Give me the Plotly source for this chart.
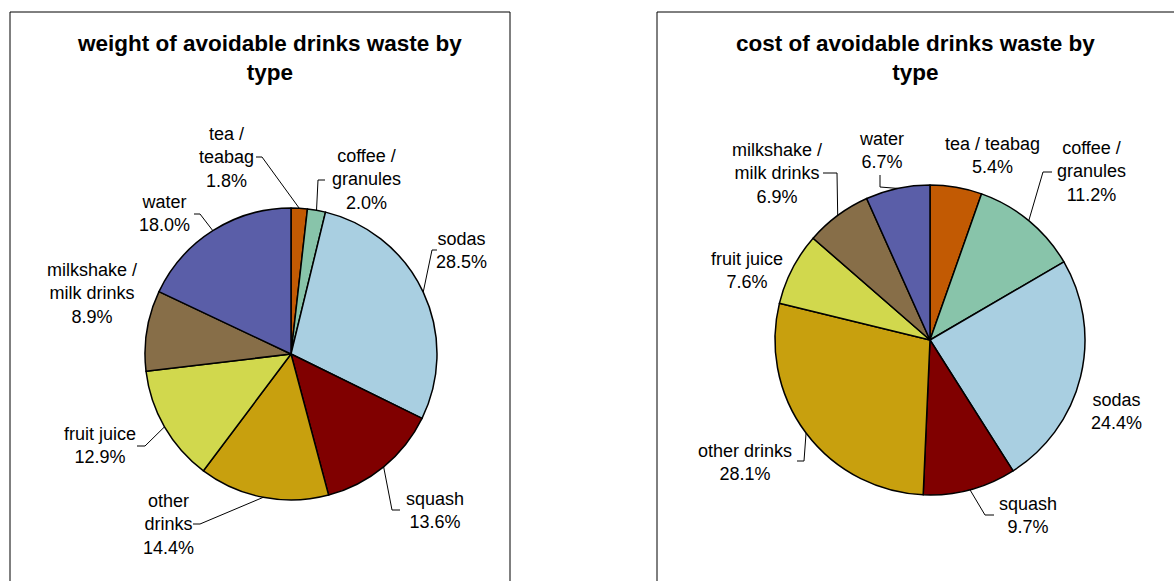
import math
import plotly.graph_objects as go

# ---------------- data ----------------
categories = ["tea / teabag", "coffee / granules", "sodas", "squash",
              "other drinks", "fruit juice", "milkshake / milk drinks", "water"]
weight_pct = [1.8, 2.0, 28.5, 13.6, 14.4, 12.9, 8.9, 18.0]
cost_pct = [5.4, 11.2, 24.4, 9.7, 28.1, 7.6, 6.9, 6.7]

weight_title = "weight of avoidable drinks waste by<br>type"
cost_title = "cost of avoidable drinks waste by<br>type"

weight_labels = ["tea /<br>teabag", "coffee /<br>granules", "sodas", "squash",
                 "other<br>drinks", "fruit juice", "milkshake /<br>milk drinks", "water"]
cost_labels = ["tea / teabag", "coffee /<br>granules", "sodas", "squash",
               "other drinks", "fruit juice", "milkshake /<br>milk drinks", "water"]

# ---------------- style / layout ----------------
W, H = 1174, 581
colors = ["#C25A03", "#88C4AA", "#A9CFE1", "#800000",
          "#C8A00E", "#D1D84D", "#876E48", "#5A5EA8"]
FONT = "Liberation Sans, Arial, sans-serif"

# pie geometry in pixels: (cx, cy, r)
weight_geom = (291, 354, 146)
cost_geom = (930, 340, 155)

# label placement in pixels: centre, and optional leader (anchor, elbow)
weight_place = [
    dict(c=(226, 157), anchor=(256, 157), elbow=(262, 157)),
    dict(c=(366, 180), anchor=(325, 180), elbow=(318, 180)),
    dict(c=(462, 250), anchor=(437, 250), elbow=(432, 250)),
    dict(c=(435, 510), anchor=(400, 510), elbow=(392, 510)),
    dict(c=(168, 524), anchor=(193, 524), elbow=(200, 524)),
    dict(c=(100, 445), anchor=(137, 446), elbow=(145, 446)),
    dict(c=(92, 293)),
    dict(c=(164, 214), anchor=(194, 214), elbow=(200, 214)),
]
cost_place = [
    dict(c=(992, 155)),
    dict(c=(1091, 172), anchor=(1052, 172), elbow=(1043, 172)),
    dict(c=(1116, 411)),
    dict(c=(1028, 515), anchor=(994, 515), elbow=(985, 515)),
    dict(c=(745, 462), anchor=(797, 461), elbow=(804, 461)),
    dict(c=(747, 270)),
    dict(c=(777, 173), anchor=(823, 173), elbow=(837, 173)),
    dict(c=(881, 150), anchor=(880, 175), elbow=(880, 187)),
]

def px(x):
    return x / W

def py(y):
    return 1 - y / H

fig = go.Figure()
annotations = []
shapes = []

# boxes
shapes.append(dict(type="rect", xref="paper", yref="paper",
                   x0=px(10), x1=px(510), y0=py(590), y1=py(12),
                   line=dict(color="black", width=1), fillcolor="rgba(0,0,0,0)"))
shapes.append(dict(type="rect", xref="paper", yref="paper",
                   x0=px(657), x1=px(1190), y0=py(590), y1=py(12),
                   line=dict(color="black", width=1), fillcolor="rgba(0,0,0,0)"))

def add_pie(values, labels, geom, place, title, title_x):
    cx, cy, r = geom
    fig.add_trace(go.Pie(
        values=values, labels=categories, sort=False, direction="clockwise",
        rotation=0, textinfo="none", hoverinfo="label+percent",
        marker=dict(colors=colors, line=dict(color="black", width=1.5)),
        domain=dict(x=[px(cx - r), px(cx + r)], y=[py(cy + r), py(cy - r)]),
        showlegend=False,
    ))
    total = sum(values)
    cum = 0.0
    for v, lab, pl in zip(values, labels, place):
        mid = (cum + v / 2) / total * 2 * math.pi
        cum += v
        ex = cx + r * math.sin(mid)
        ey = cy - r * math.cos(mid)
        lx, ly = pl["c"]
        annotations.append(dict(
            x=px(lx), y=py(ly), xref="paper", yref="paper",
            text=f"{lab}<br>{v:.1f}%", showarrow=False,
            xanchor="center", yanchor="middle", align="center",
            font=dict(family=FONT, size=18, color="black"),
        ))
        if "anchor" in pl:
            ax, ay = pl["anchor"]
            bx, by = pl["elbow"]
            shapes.append(dict(type="path", xref="paper", yref="paper",
                               path=f"M {px(ax)} {py(ay)} L {px(bx)} {py(by)} L {px(ex)} {py(ey)}",
                               line=dict(color="black", width=1)))
    annotations.append(dict(
        x=px(title_x), y=py(58), xref="paper", yref="paper",
        text=f"<b>{title}</b>", showarrow=False,
        xanchor="center", yanchor="middle", align="center",
        font=dict(family=FONT, size=22.5, color="black"),
    ))

add_pie(weight_pct, weight_labels, weight_geom, weight_place, weight_title, 269)
add_pie(cost_pct, cost_labels, cost_geom, cost_place, cost_title, 915)

fig.update_layout(
    width=W, height=H, margin=dict(l=0, r=0, t=0, b=0),
    paper_bgcolor="white", plot_bgcolor="white",
    annotations=annotations, shapes=shapes,
)

fig.write_html("out.html", config={"displayModeBar": False},
               post_script="document.body.style.margin='0';document.body.style.overflow='hidden';")
